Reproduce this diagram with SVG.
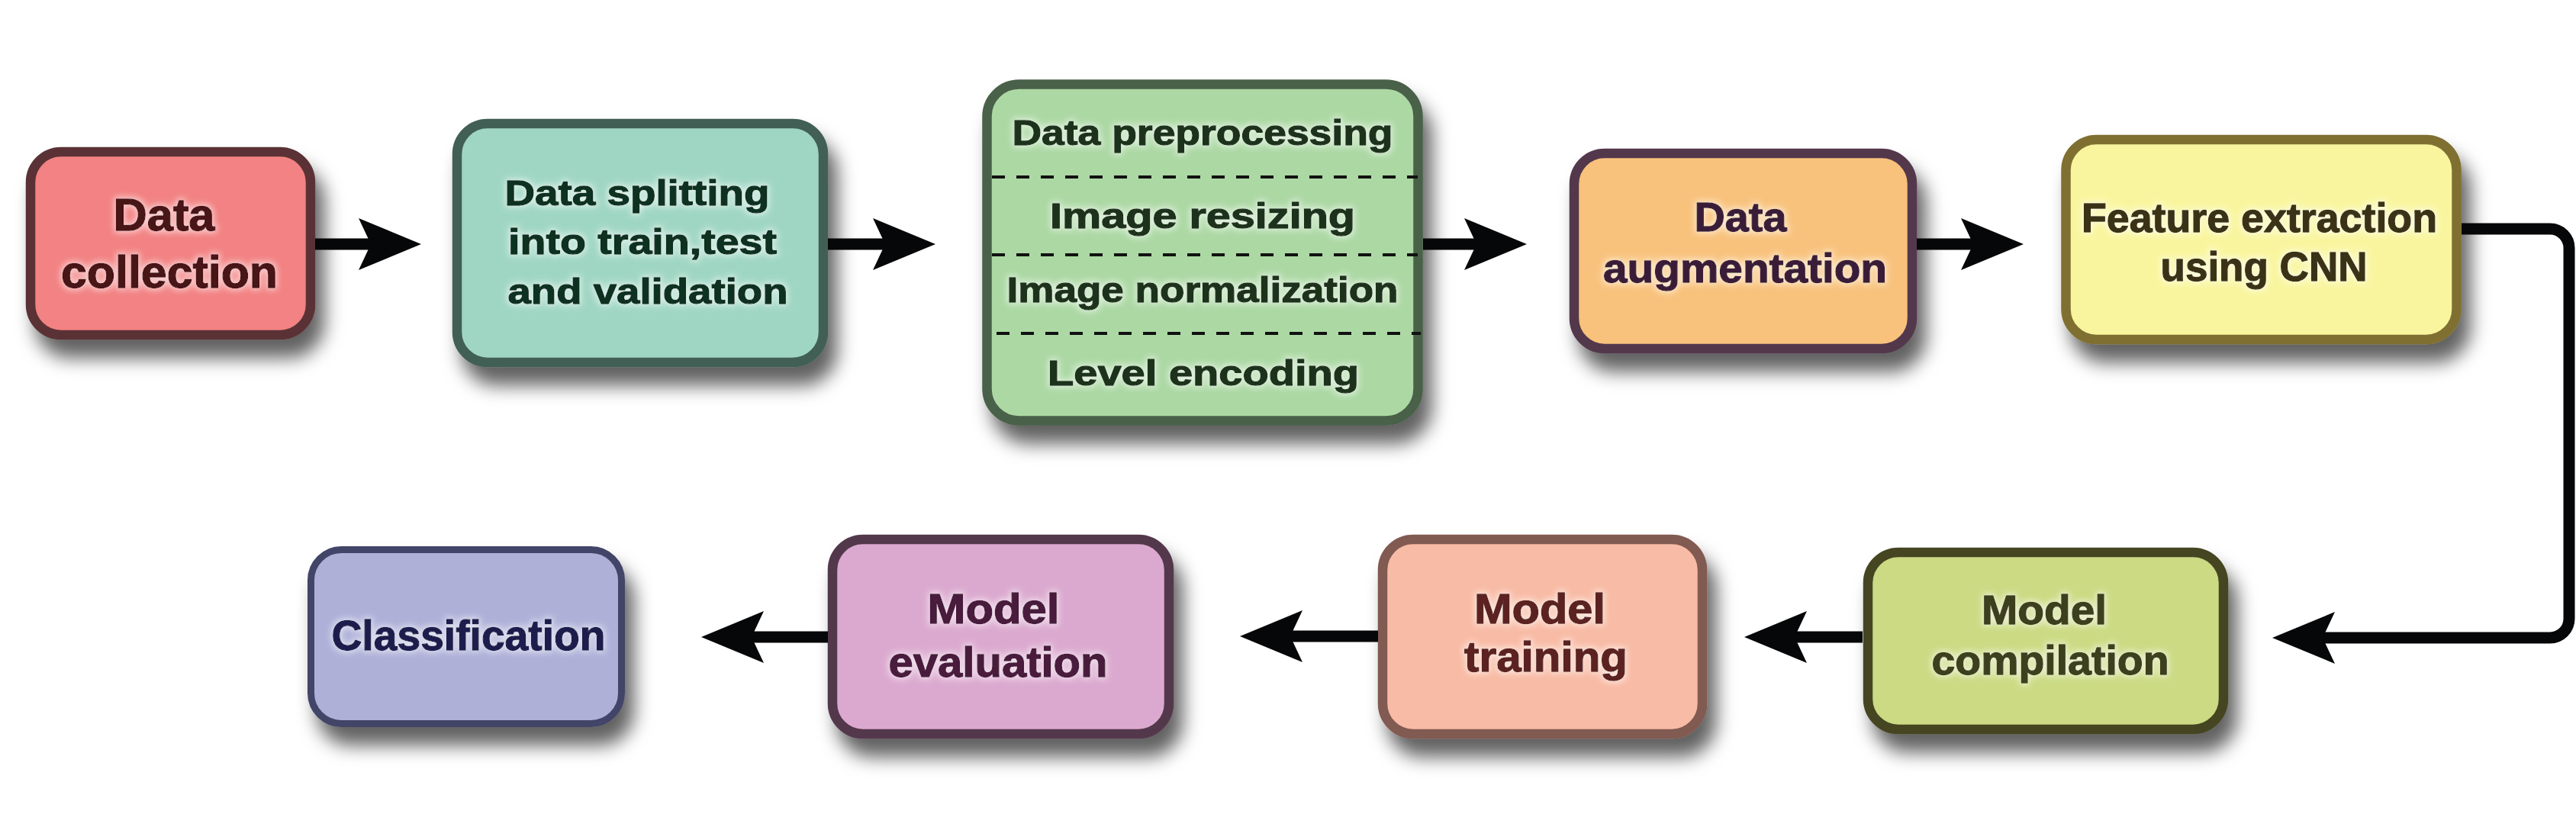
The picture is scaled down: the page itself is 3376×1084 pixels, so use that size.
<svg xmlns="http://www.w3.org/2000/svg" xmlns:xlink="http://www.w3.org/1999/xlink" width="3376" height="1084" viewBox="0 0 3376 1084">
<defs>
<style>
.box{stroke-width:12.5;filter:url(#shadow)}
.t{font-family:"Liberation Sans",Arial,sans-serif;font-weight:bold;text-anchor:middle;filter:url(#glow);fill:currentColor;stroke:currentColor;stroke-width:1.3;stroke-linejoin:round}
.shaft{stroke:#060708;stroke-width:15;fill:none}
.dash{stroke:#111;stroke-width:4;stroke-dasharray:17 15}
</style>
<filter id="shadow" x="-20%" y="-20%" width="150%" height="160%">
<feGaussianBlur in="SourceAlpha" stdDeviation="12"/>
<feOffset dx="12" dy="24" result="b"/>
<feFlood flood-color="#000" flood-opacity="0.62"/>
<feComposite in2="b" operator="in"/>
<feMerge><feMergeNode/><feMergeNode in="SourceGraphic"/></feMerge>
</filter>
<filter id="glow" x="-10%" y="-30%" width="120%" height="160%">
<feMorphology in="SourceAlpha" operator="dilate" radius="2" result="d"/>
<feGaussianBlur in="d" stdDeviation="4" result="g"/>
<feFlood flood-color="#fff" flood-opacity="0.6"/>
<feComposite in2="g" operator="in"/>
<feMerge><feMergeNode/><feMergeNode in="SourceGraphic"/></feMerge>
</filter>
<polygon id="ah" points="0,0 -82,-34 -66,0 -82,34" fill="#060708"/>
</defs>
<rect width="3376" height="1084" fill="#fff"/>

<g id="n1" color="#4a1218">
<rect class="box" x="40" y="199" width="367" height="240" rx="40" fill="#f28283" stroke="#5a3334"/>
<text class="t" font-size="59" x="215" y="302" textLength="133" lengthAdjust="spacingAndGlyphs">Data</text>
<text class="t" font-size="59" x="222" y="377" textLength="284" lengthAdjust="spacingAndGlyphs">collection</text>
</g>

<g id="n2" color="#0c3020">
<rect class="box" x="599" y="162" width="480" height="313" rx="40" fill="#9fd6c3" stroke="#435f55"/>
<text class="t" font-size="47" x="835" y="269" textLength="347" lengthAdjust="spacingAndGlyphs">Data splitting</text>
<text class="t" font-size="47" x="842" y="333" textLength="352" lengthAdjust="spacingAndGlyphs">into train,test</text>
<text class="t" font-size="47" x="849" y="398" textLength="367" lengthAdjust="spacingAndGlyphs">and validation</text>
</g>

<g id="n3" color="#1c331a">
<rect class="box" x="1293.5" y="110.5" width="565" height="441" rx="42" fill="#acd8a4" stroke="#4a6048"/>
<line class="dash" x1="1300" y1="232" x2="1858" y2="232"/>
<line class="dash" x1="1300" y1="334" x2="1858" y2="334"/>
<line class="dash" x1="1306" y1="437" x2="1862" y2="437"/>
<text class="t" font-size="46" x="1576" y="190" textLength="499" lengthAdjust="spacingAndGlyphs">Data preprocessing</text>
<text class="t" font-size="46" x="1576" y="299" textLength="400" lengthAdjust="spacingAndGlyphs">Image resizing</text>
<text class="t" font-size="46" x="1576" y="396" textLength="513" lengthAdjust="spacingAndGlyphs">Image normalization</text>
<text class="t" font-size="46" x="1577" y="505" textLength="408" lengthAdjust="spacingAndGlyphs">Level encoding</text>
</g>

<g id="n4" color="#3a1f38">
<rect class="box" x="2063" y="201" width="443" height="256" rx="40" fill="#f8c27b" stroke="#52374c"/>
<text class="t" font-size="53" x="2281" y="303" textLength="121" lengthAdjust="spacingAndGlyphs">Data</text>
<text class="t" font-size="53" x="2287" y="370" textLength="372" lengthAdjust="spacingAndGlyphs">augmentation</text>
</g>

<g id="n5" color="#3a3218">
<rect class="box" x="2707.5" y="183" width="512" height="262" rx="40" fill="#f9f59e" stroke="#7f7030"/>
<text class="t" font-size="53" x="2961" y="304" textLength="466" lengthAdjust="spacingAndGlyphs">Feature extraction</text>
<text class="t" font-size="53" x="2967" y="368" textLength="271" lengthAdjust="spacingAndGlyphs">using CNN</text>
</g>

<g id="n6" color="#3e3f1c">
<rect class="box" x="2448" y="724" width="466" height="232" rx="40" fill="#cbda83" stroke="#444421"/>
<text class="t" font-size="54" x="2679" y="818" textLength="164" lengthAdjust="spacingAndGlyphs">Model</text>
<text class="t" font-size="54" x="2687" y="884" textLength="311" lengthAdjust="spacingAndGlyphs">compilation</text>
</g>

<g id="n7" color="#5b2320">
<rect class="box" x="1812" y="707" width="419" height="255" rx="40" fill="#f8bba5" stroke="#815a51"/>
<text class="t" font-size="56" x="2018" y="817" textLength="172" lengthAdjust="spacingAndGlyphs">Model</text>
<text class="t" font-size="56" x="2026" y="880" textLength="214" lengthAdjust="spacingAndGlyphs">training</text>
</g>

<g id="n8" color="#4a1a3c">
<rect class="box" x="1091" y="707" width="441" height="255" rx="40" fill="#dba9cf" stroke="#53374b"/>
<text class="t" font-size="55" x="1302" y="817" textLength="173" lengthAdjust="spacingAndGlyphs">Model</text>
<text class="t" font-size="55" x="1308" y="887" textLength="287" lengthAdjust="spacingAndGlyphs">evaluation</text>
</g>

<g id="n9" color="#1e1f4e">
<rect class="box" x="407.5" y="720.5" width="407" height="228" rx="40" fill="#aeb0d8" stroke="#434468" style="stroke-width:9"/>
<text class="t" font-size="56" x="614" y="852" textLength="359" lengthAdjust="spacingAndGlyphs">Classification</text>
</g>

<g id="connectors">
<line class="shaft" x1="413" y1="320" x2="495" y2="320"/>
<use xlink:href="#ah" transform="translate(552,320)"/>
<line class="shaft" x1="1085" y1="320" x2="1170" y2="320"/>
<use xlink:href="#ah" transform="translate(1226,320)"/>
<line class="shaft" x1="1865" y1="320" x2="1945" y2="320"/>
<use xlink:href="#ah" transform="translate(2001,320)"/>
<line class="shaft" x1="2512" y1="320" x2="2595" y2="320"/>
<use xlink:href="#ah" transform="translate(2652,320)"/>
<path class="shaft" d="M3226,300 H3342 A25,25 0 0 1 3367,325 V811 A25,25 0 0 1 3342,836 H3035"/>
<use xlink:href="#ah" transform="translate(2978,836) rotate(180)"/>
<line class="shaft" x1="2441" y1="835" x2="2343" y2="835"/>
<use xlink:href="#ah" transform="translate(2286,835) rotate(180)"/>
<line class="shaft" x1="1806" y1="834" x2="1682" y2="834"/>
<use xlink:href="#ah" transform="translate(1625,834) rotate(180)"/>
<line class="shaft" x1="1085" y1="835" x2="976" y2="835"/>
<use xlink:href="#ah" transform="translate(919,835) rotate(180)"/>
</g>
</svg>
